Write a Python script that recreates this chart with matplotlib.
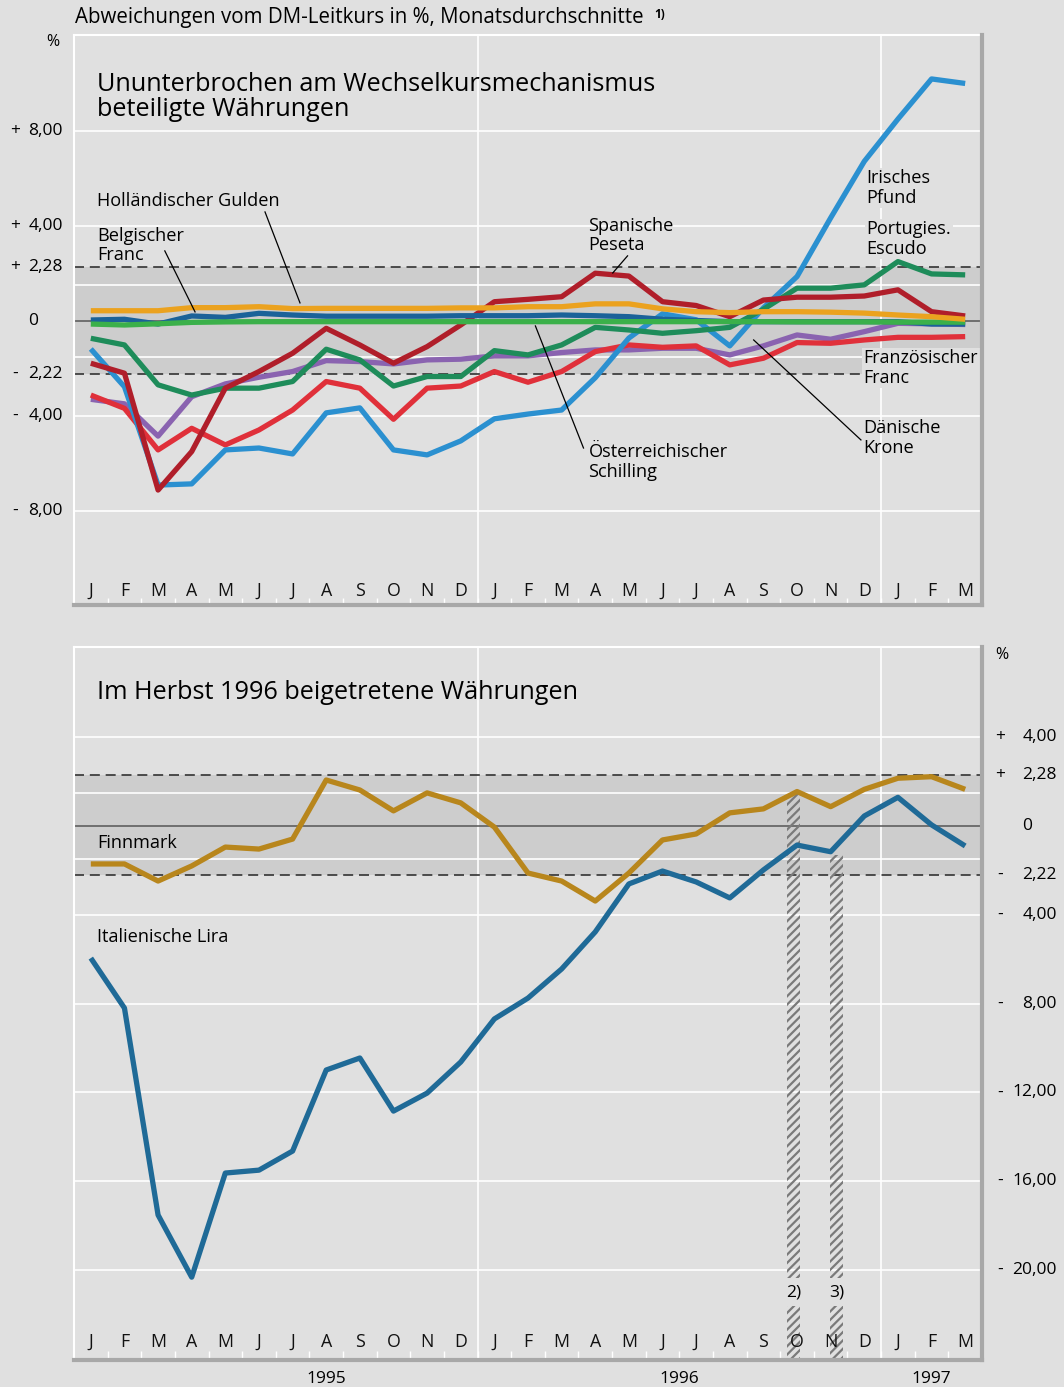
import matplotlib
matplotlib.use('Agg')
import matplotlib.pyplot as plt
from matplotlib.patches import Rectangle
import numpy as np

plt.rcParams['font.family'] = ['Open Sans', 'DejaVu Sans']
plt.rcParams['hatch.linewidth'] = 1.6
plt.rcParams['hatch.color'] = '#7a7a7a'

# ---------------- data ----------------
months = ['J', 'F', 'M', 'A', 'M', 'J', 'J', 'A', 'S', 'O', 'N', 'D',
          'J', 'F', 'M', 'A', 'M', 'J', 'J', 'A', 'S', 'O', 'N', 'D',
          'J', 'F', 'M']
years = ['1995', '1996', '1997']
year_pos = [7, 17.5, 25]

irish = [-1.18, -2.77, -6.91, -6.86, -5.43, -5.35, -5.60, -3.87, -3.66, -5.43, -5.64, -5.05,
         -4.12, -3.92, -3.75, -2.39, -0.72, 0.30, 0.05, -1.05, 0.55, 1.87, 4.34, 6.72,
         8.50, 10.19, 10.00]
spain = [-1.78, -2.20, -7.12, -5.50, -2.83, -2.13, -1.36, -0.31, -1.01, -1.78, -1.08, -0.17,
         0.81, 0.91, 1.02, 2.01, 1.89, 0.81, 0.65, 0.18, 0.88, 1.00, 1.00, 1.05,
         1.31, 0.39, 0.21]
portugal = [-0.73, -1.01, -2.69, -3.12, -2.83, -2.83, -2.55, -1.19, -1.64, -2.74, -2.34, -2.34,
            -1.25, -1.43, -1.01, -0.27, -0.38, -0.52, -0.41, -0.27, 0.49, 1.38, 1.38, 1.52,
            2.50, 1.98, 1.94]
france = [-3.12, -3.68, -5.43, -4.52, -5.22, -4.59, -3.75, -2.55, -2.83, -4.14, -2.83, -2.74,
          -2.13, -2.58, -2.13, -1.29, -1.01, -1.11, -1.05, -1.85, -1.57, -0.91, -0.94, -0.80,
          -0.69, -0.69, -0.66]
denmark = [-3.30, -3.49, -4.85, -3.19, -2.65, -2.37, -2.13, -1.67, -1.71, -1.81, -1.64, -1.61,
           -1.47, -1.47, -1.33, -1.22, -1.22, -1.15, -1.15, -1.43, -1.05, -0.59, -0.77, -0.45,
           -0.10, -0.12, -0.15]
belgium = [0.04, 0.07, -0.13, 0.21, 0.15, 0.32, 0.25, 0.20, 0.20, 0.20, 0.20, 0.22,
           0.22, 0.22, 0.25, 0.22, 0.18, 0.07, 0.02, -0.03, -0.03, -0.03, -0.03, -0.03,
           -0.03, -0.13, -0.13]
netherlands = [0.43, 0.43, 0.43, 0.56, 0.56, 0.60, 0.52, 0.53, 0.53, 0.53, 0.53, 0.55,
               0.55, 0.60, 0.60, 0.72, 0.72, 0.51, 0.39, 0.35, 0.39, 0.39, 0.37, 0.33,
               0.25, 0.18, 0.07]
austria = [-0.13, -0.17, -0.12, -0.06, -0.04, -0.03, -0.03, -0.03, -0.03, -0.03, -0.03, -0.03,
           -0.03, -0.03, -0.03, -0.03, -0.03, -0.03, -0.03, -0.03, -0.03, -0.04, -0.04, -0.04,
           -0.05, -0.05, -0.05]

lira = [-5.95, -8.20, -17.52, -20.32, -15.63, -15.50, -14.64, -10.99, -10.45, -12.84, -12.03, -10.63,
        -8.69, -7.75, -6.44, -4.77, -2.61, -2.03, -2.52, -3.24, -1.98, -0.86, -1.16, 0.45,
        1.29, 0.05, -0.90]
finn = [-1.71, -1.71, -2.48, -1.80, -0.95, -1.04, -0.59, 2.07, 1.62, 0.68, 1.49, 1.04,
        -0.05, -2.12, -2.48, -3.38, -2.12, -0.63, -0.36, 0.59, 0.77, 1.55, 0.87, 1.65,
        2.15, 2.22, 1.65]

top_ticks = [8, 4, 2.28, 0, -2.22, -4, -8]
top_signs = ['+', '+', '+', '', '-', '-', '-']
top_nums = ['8,00', '4,00', '2,28', '0', '2,22', '4,00', '8,00']
bot_ticks = [4, 2.28, 0, -2.22, -4, -8, -12, -16, -20]
bot_signs = ['+', '+', '', '-', '-', '-', '-', '-', '-']
bot_nums = ['4,00', '2,28', '0', '2,22', '4,00', '8,00', '12,00', '16,00', '20,00']

band_upper, band_lower = 2.28, -2.22
entry_months = [21, 22]      # Finnmark Oct 96, Lira Nov 96
entry_notes = ['2)', '3)']

# ---------------- styling ----------------
BG = '#e0e0e0'
BAND = '#cdcdcd'
W, H = 1064, 1387
fig = plt.figure(figsize=(W / 100, H / 100), dpi=100)
fig.patch.set_facecolor(BG)


def px_axes(l, t, r, b):
    return fig.add_axes([l / W, 1 - b / H, (r - l) / W, (b - t) / H])


ax1 = px_axes(74, 35, 982, 605)
ax2 = px_axes(74, 647, 982, 1360)

x = np.arange(len(months))
FS = 12.5
LFS = 13.1


def style(ax, ylo, yhi, grid):
    ax.set_facecolor(BG)
    ax.set_xlim(-0.5, 26.5)
    ax.set_ylim(ylo, yhi)
    ax.set_xticks([])
    ax.set_yticks([])
    for s in ['left', 'top']:
        ax.spines[s].set_color('white')
        ax.spines[s].set_linewidth(1.5)
    for s in ['right', 'bottom']:
        ax.spines[s].set_color('#a8a8a8')
        ax.spines[s].set_linewidth(3)
        ax.spines[s].set_zorder(7)
    ax.axhspan(band_lower, band_upper, color=BAND, lw=0, zorder=0.5)
    for g in grid:
        ax.axhline(g, color='white', lw=1.2, zorder=1)
    for xv in [11.5, 23.5]:
        ax.axvline(xv, color='white', lw=1.2, zorder=1)
    ax.axhline(0, color='#555555', lw=1.1, zorder=1.5)
    for d in [band_upper, band_lower]:
        ax.axhline(d, color='#333333', lw=1.2, ls=(0, (6, 3.5)), zorder=1.5)
    tr = ax.get_xaxis_transform()
    for i, m in enumerate(months):
        ax.text(i, 0.025, m, transform=tr, ha='center', va='center', fontsize=FS + 0.3, color='#111111')
    ax.vlines(np.arange(0.5, 26, 1), 0, 0.013, transform=tr, color='white', lw=1)


style(ax1, -11.96, 12.04, [8, 4, 1.5, -1.5, -4, -8])
style(ax2, -24.05, 8.06, [4, 1.5, -1.5, -4, -8, -12, -16, -20])

LW = 3.8
series_top = [
    (denmark, '#8a63b0'),
    (france, '#e0303a'),
    (irish, '#2b90d0'),
    (portugal, '#1e8c5a'),
    (spain, '#b01e2a'),
    (belgium, '#1b6299'),
    (austria, '#3bb04a'),
    (netherlands, '#eba21f'),
]
for k, (vals, col) in enumerate(series_top):
    ax1.plot(x, vals, color=col, lw=LW, zorder=3 + k * 0.1, solid_capstyle='butt')

ax2.plot(x, finn, color='#b8861c', lw=LW, zorder=3, solid_capstyle='butt')
ax2.plot(x, lira, color='#1f6a97', lw=LW, zorder=3.1, solid_capstyle='butt')

# ---- left tick labels (top) ----
ytr1 = ax1.get_yaxis_transform()
for v, s, n in zip(top_ticks, top_signs, top_nums):
    ax1.text(-0.0645, v, s, transform=ytr1, ha='center', va='center', fontsize=FS, clip_on=False)
    ax1.text(-0.0505, v, n, transform=ytr1, ha='left', va='center', fontsize=FS, clip_on=False)
ax1.text(-0.023, 0.988, '%', transform=ax1.transAxes, ha='center', va='center', fontsize=FS - 1)

# ---- right tick labels (bottom) ----
ytr2 = ax2.get_yaxis_transform()
for v, s, n in zip(bot_ticks, bot_signs, bot_nums):
    ax2.text(1.0195, v, s, transform=ytr2, ha='center', va='center', fontsize=FS, clip_on=False)
    if n == '0':
        ax2.text(1.0445, v, n, transform=ytr2, ha='left', va='center', fontsize=FS, clip_on=False)
    else:
        ax2.text(1.0825, v, n, transform=ytr2, ha='right', va='center', fontsize=FS, clip_on=False)
ax2.text(1.0215, 0.989, '%', transform=ax2.transAxes, ha='center', va='center', fontsize=FS - 1)

# ---- header ----
fig.text(75 / W, 1 - 17 / H, 'Abweichungen vom DM-Leitkurs in %, Monatsdurchschnitte',
         ha='left', va='center', fontsize=14.8)
fig.text(654 / W, 1 - 14 / H, '1)', ha='left', va='center', fontsize=8.5, fontweight='bold')

# ---- titles ----
ax1.text(0.18, 9.43, 'Ununterbrochen am Wechselkursmechanismus\nbeteiligte Währungen',
         ha='left', va='center', fontsize=18.2, linespacing=1.02, zorder=6)
ax2.text(0.18, 5.99, 'Im Herbst 1996 beigetretene Währungen',
         ha='left', va='center', fontsize=18.2, zorder=6)

# ---- annotations top ----
box = dict(facecolor=BG, edgecolor='none', pad=1.0)
LS = 1.08


def lab(ax, xx, yy, s, bbox=None, fs=LFS):
    ax.text(xx, yy, s, ha='left', va='center', fontsize=fs, linespacing=LS, zorder=6, bbox=bbox)


def leader(ax, x0, y0, x1, y1):
    ax.plot([x0, x1], [y0, y1], color='black', lw=0.9, zorder=6)


lab(ax1, 0.18, 5.05, 'Holländischer Gulden')
leader(ax1, 5.18, 4.59, 6.22, 0.76)
lab(ax1, 0.18, 3.18, 'Belgischer\nFranc')
leader(ax1, 2.2, 2.95, 3.1, 0.38)
lab(ax1, 14.8, 3.58, 'Spanische\nPeseta')
leader(ax1, 15.96, 2.74, 15.52, 2.02)
lab(ax1, 14.8, -5.94, 'Österreichischer\nSchilling')
leader(ax1, 14.65, -5.35, 13.22, -0.21)
lab(ax1, 22.98, -4.93, 'Dänische\nKrone')
leader(ax1, 22.9, -5.01, 19.71, -0.8)
lab(ax1, 22.98, -1.98, 'Französischer\nFranc', bbox=box, fs=12.8)
lab(ax1, 23.06, 5.6, 'Irisches\nPfund', bbox=box)
lab(ax1, 23.06, 3.45, 'Portugies.\nEscudo', bbox=box)

# ---- annotations bottom ----
lab(ax2, 0.18, -0.77, 'Finnmark')
lab(ax2, 0.18, -5.0, 'Italienische Lira')

# hatched entry bars
tops = [finn[entry_months[0]] - 0.1, lira[entry_months[1]] - 0.15]
centers = [20.9, 22.18]
for c, t, note in zip(centers, tops, entry_notes):
    for (y0, y1) in [(-20.35, t), (-24.05, -21.6)]:
        r = Rectangle((c - 0.19, y0), 0.38, y1 - y0, facecolor='none', edgecolor='#7a7a7a',
                      hatch='////', lw=0, zorder=2.5, clip_on=False)
        ax2.add_patch(r)
    ax2.text(c, -21.0, note, ha='center', va='center', fontsize=FS, zorder=6)

# year labels
xtr2 = ax2.get_xaxis_transform()
for yp, yl in zip(year_pos, years):
    ax2.text(yp, -0.026, yl, transform=xtr2, ha='center', va='center', fontsize=FS, clip_on=False)

fig.savefig('out.png', dpi=100, facecolor=BG)
